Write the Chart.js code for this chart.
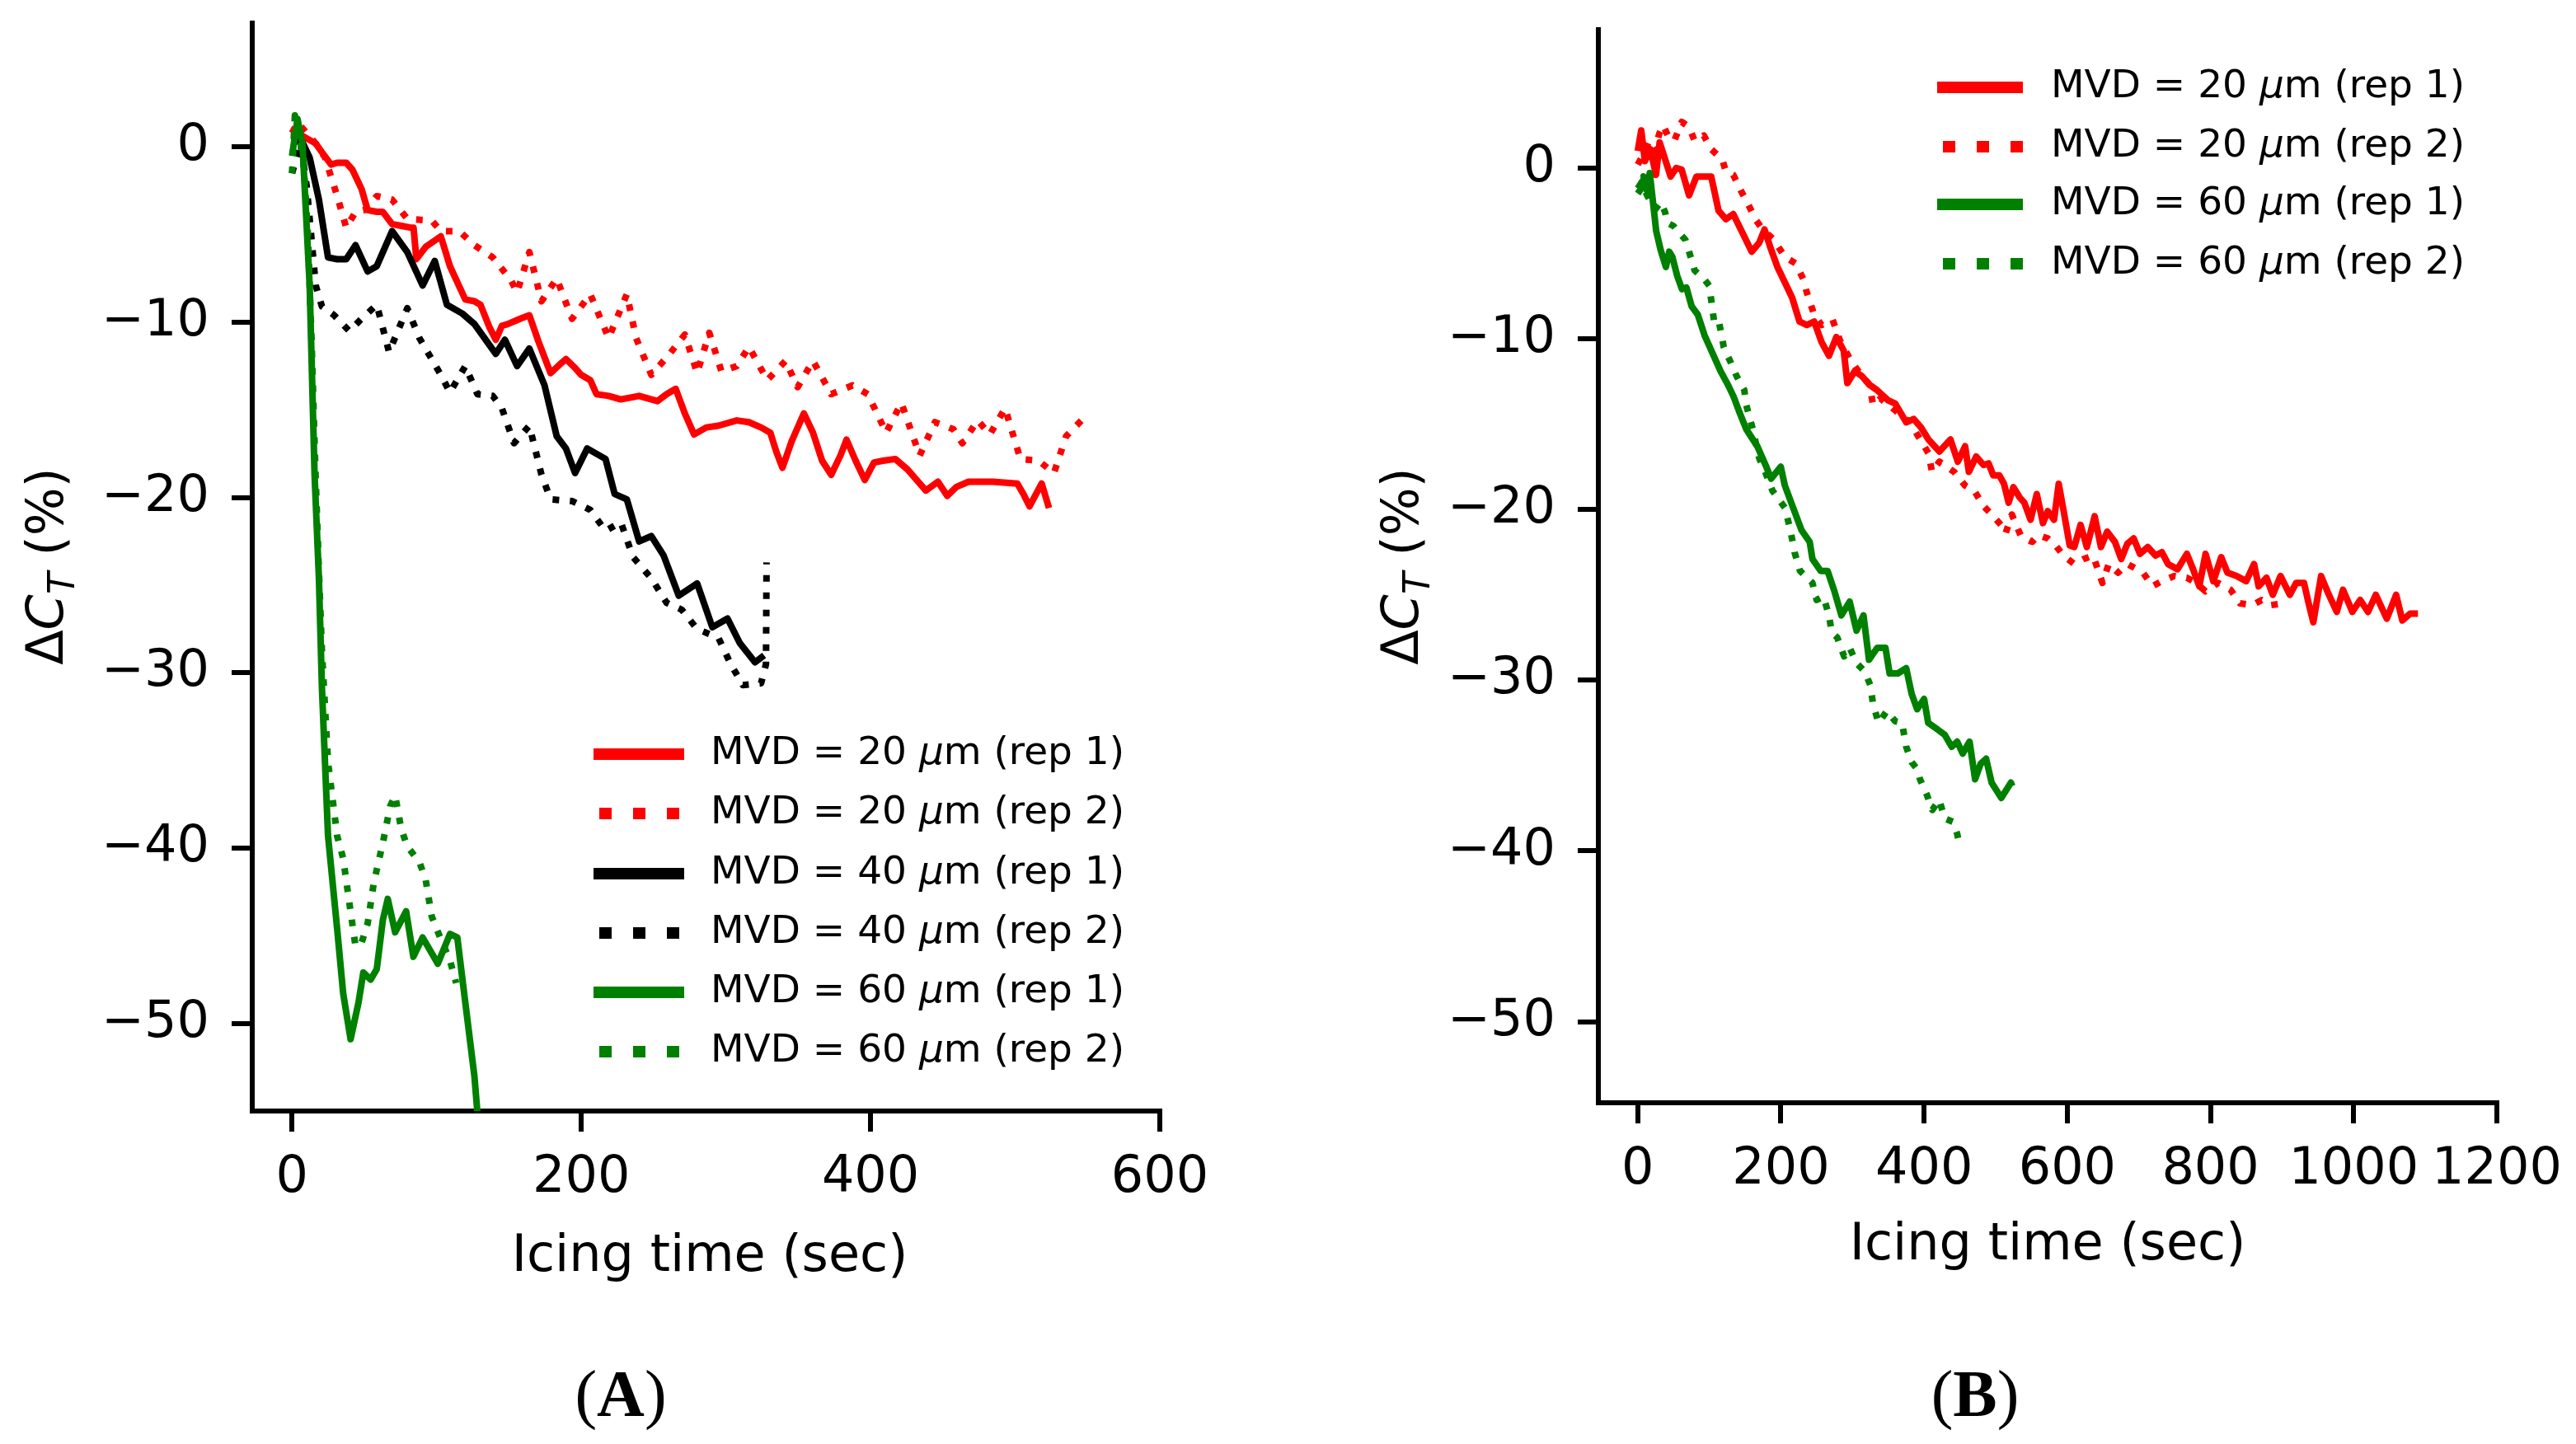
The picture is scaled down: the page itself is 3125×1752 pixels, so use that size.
<!DOCTYPE html>
<html>
<head>
<meta charset="utf-8">
<script src="https://cdn.jsdelivr.net/npm/chart.js@4.4.1/dist/chart.umd.min.js"></script>
<style>
html, body { margin: 0; padding: 0; background: #fff; }
#wrap { position: relative; width: 3125px; height: 1752px; overflow: hidden; background: #fff; }
canvas { position: absolute; top: 0; }
#chartA { left: 0; }
#chartB { left: 1560px; }
</style>
</head>
<body>
<div id="wrap">
  <canvas id="chartA" width="1560" height="1752"></canvas>
  <canvas id="chartB" width="1565" height="1752"></canvas>
</div>
<script>
// ---- panel A: [icing time (s), delta CT (%)] ----
const A_mvd20_rep1 = [[0,0.3],[8,0.6],[16.4,0.2],[20.7,-0.3],[27,-1],[31.2,-0.9],[37.5,-0.9],[41.8,-1.3],[48.1,-2.4],[52.3,-3.6],[58.6,-3.7],[62.8,-3.7],[69.2,-4.4],[75.5,-4.5],[81.8,-4.6],[84,-4.6],[86,-6.4],[92.4,-5.7],[102.9,-5.1],[109.2,-6.8],[119.8,-8.7],[126.1,-8.8],[130.3,-9],[136.6,-10.3],[140.9,-11],[145.1,-10.2],[149.3,-10.1],[157.7,-9.8],[164.1,-9.6],[170.4,-11.1],[178.8,-12.9],[185.2,-12.4],[189.4,-12.1],[195.7,-12.6],[199.9,-13],[206.2,-13.3],[210.5,-14.1],[218.9,-14.2],[227.3,-14.4],[240,-14.2],[252.6,-14.5],[259,-14.1],[265.3,-13.8],[271.6,-15.2],[278,-16.4],[286.4,-16],[294.8,-15.9],[307.5,-15.6],[315.9,-15.7],[324.3,-16],[330.7,-16.3],[334.9,-17.4],[339.1,-18.3],[345.4,-16.8],[353.9,-15.2],[360.2,-16.3],[366.5,-17.9],[372.8,-18.7],[379.2,-17.6],[383.4,-16.7],[389.7,-17.9],[396,-19],[402.4,-18],[408.7,-17.9],[417.1,-17.8],[425.6,-18.4],[431.9,-19],[438.2,-19.6],[446.6,-19.1],[453,-19.9],[459.3,-19.4],[467.7,-19.1],[484.6,-19.1],[501.5,-19.2],[505.7,-19.8],[509.9,-20.5],[518.3,-19.2],[523.4,-20.6]];
const A_mvd20_rep2 = [[0,0.8],[3.8,1.4],[10.1,0.8],[16.4,0.2],[22.8,-0.6],[31.2,-2.8],[37.5,-4.6],[43.9,-3.7],[50.2,-3.6],[58.6,-2.8],[69.2,-3],[79.7,-4.1],[96.6,-4.2],[102.9,-4.8],[115.6,-4.8],[126.1,-5.6],[138.8,-6.3],[151.4,-7.6],[155.6,-8.3],[164.1,-6],[172.5,-8.8],[183,-7.5],[193.6,-9.8],[206.2,-8.4],[218.9,-10.9],[231.5,-8.4],[237.9,-10.9],[248.4,-13],[261.1,-11.8],[271.6,-10.7],[280.1,-12.9],[288.5,-10.6],[296.9,-12.8],[307.5,-12.5],[315.9,-11.4],[328.6,-13.3],[341.2,-12.2],[349.6,-13.7],[360.2,-12.2],[372.8,-14.1],[387.6,-13.6],[398.1,-14.1],[410.8,-16.3],[421.3,-14.6],[434,-17.6],[444.5,-15.7],[457.2,-16.1],[463.5,-16.9],[474.1,-15.6],[482.5,-16.4],[493,-14.9],[503.6,-17.8],[516.2,-17.9],[526.8,-18.6],[535.2,-16.5],[545.8,-15.6]];
const A_mvd40_rep1 = [[0.8,0.2],[5.9,0.5],[12.2,-0.6],[18.6,-3],[24.9,-6.3],[31.2,-6.4],[37.5,-6.4],[43.9,-5.6],[52.3,-7.1],[58.6,-6.8],[69.2,-4.8],[79.7,-6],[90.3,-7.9],[98.7,-6.5],[107.1,-9],[117.7,-9.5],[126.1,-10.1],[140.9,-11.8],[147.2,-11],[155.6,-12.5],[164.1,-11.5],[174.6,-13.6],[183,-16.5],[189.4,-17.2],[195.7,-18.6],[204.1,-17.2],[216.8,-17.8],[223.1,-19.8],[231.5,-20.1],[240,-22.5],[248.4,-22.2],[256.9,-23.3],[267.4,-25.6],[280.1,-24.9],[290.6,-27.4],[301.1,-26.9],[309.6,-28.3],[320.1,-29.4],[326.4,-29]];
const A_mvd40_rep2 = [[0,-1.5],[5.9,0.2],[10.1,-2.2],[16.4,-7.9],[20.7,-9.1],[29.1,-9.6],[39.6,-10.5],[48.1,-9.8],[58.6,-9],[67.1,-11.7],[79.7,-9.2],[88.1,-10.9],[102.9,-13],[109.2,-14],[119.8,-12.5],[128.2,-14.1],[138.8,-14.2],[145.1,-14.9],[153.5,-16.9],[164.1,-15.9],[172.5,-18.7],[178.8,-20.1],[193.6,-20.2],[206.2,-20.7],[216.8,-21.9],[227.3,-21.4],[235.8,-23.4],[248.4,-24.6],[259,-26],[269.5,-26.4],[280.1,-27.5],[294.8,-28],[303.3,-29.5],[311.7,-30.7],[324.3,-30.6],[327.7,-29.5],[328.1,-23.7]];
const A_mvd60_rep1 = [[0,-0.5],[3.8,1.6],[7.2,0.2],[9.5,-3.5],[12.2,-7.9],[15.6,-18.7],[18.6,-24.6],[20.7,-30.9],[24.9,-39.3],[31.2,-44.6],[35.4,-48.3],[40.5,-50.9],[46,-48.8],[49.3,-47.1],[54.4,-47.5],[58.6,-46.9],[62.8,-44.1],[66.2,-42.9],[71.3,-44.8],[78.9,-43.6],[83.9,-46.2],[90.3,-45.1],[96.6,-46],[100.8,-46.6],[109.2,-44.9],[114.3,-45.1],[119.8,-48.8],[126.1,-53],[128.2,-55.1],[131,-60]];
const A_mvd60_rep2 = [[0,-1.5],[2,1.8],[5,0.6],[8,-0.8],[11,-5],[13.5,-11],[16,-18],[18.5,-24],[20.7,-28.8],[24.9,-35.1],[31.2,-39.3],[35.4,-40.6],[39.6,-43.1],[43.9,-45.6],[48.1,-45.4],[52.3,-44.3],[56.5,-42],[62.8,-39.7],[67.9,-37.6],[71.3,-37],[75.5,-38.9],[79.7,-39.9],[88.1,-40.8],[92.4,-41.8],[96.6,-43.9],[102.9,-45.2],[109.2,-46.4],[113.5,-47.7]];

// ---- panel B ----
const B_mvd20_rep1 = [[0,1],[4.9,2.2],[10,0.4],[17.7,1.1],[25.5,-0.4],[30.6,1.5],[38.3,0.5],[46,-0.5],[53.7,0],[61.4,-0.1],[71.7,-1.6],[82,-0.5],[94.9,-0.5],[102.6,-0.5],[112.9,-2.5],[123.1,-3],[133.4,-2.7],[146.3,-3.8],[159.1,-4.9],[169.4,-4.4],[177.1,-3.6],[184.8,-4.6],[195.1,-5.8],[205.4,-6.7],[215.7,-7.6],[226,-9],[236.2,-9.2],[246.5,-9],[256.8,-10.2],[267.1,-11],[277.4,-9.9],[287.7,-10.7],[292.8,-12.6],[303.1,-11.9],[313.4,-12.2],[323.7,-12.7],[334,-13],[349.4,-13.6],[359.7,-13.8],[375.1,-14.9],[385.4,-14.7],[395.7,-15.2],[406,-15.9],[421.4,-16.6],[436.8,-15.9],[447.1,-17.2],[457.3,-16.3],[462.5,-17.8],[472.7,-16.9],[483,-17.4],[490,-17.3],[496.6,-18],[505,-18],[511.6,-18.5],[518,-19.6],[524.7,-18.7],[533.5,-19.3],[540,-19.6],[548.7,-20.6],[557.4,-19.1],[566,-20.8],[572.7,-20.1],[581.5,-20.6],[588,-18.5],[594.5,-20],[603.3,-22.1],[609.8,-22.2],[618.5,-20.9],[627.3,-22.2],[638.2,-20.4],[647,-22.2],[655.7,-21.3],[666.5,-21.9],[675.3,-22.9],[684,-22],[692.7,-21.7],[701.5,-22.6],[712.4,-22.2],[723.3,-22.7],[732,-22.5],[740.8,-23.2],[753.9,-23.5],[767,-22.6],[775.7,-23.5],[784.4,-24.5],[793.1,-22.6],[804,-24.2],[815,-22.8],[823.7,-23.7],[836.8,-23.9],[849.9,-24.2],[860.8,-23.2],[867.3,-24.5],[878.2,-24],[887,-25],[897.8,-23.9],[910.9,-25],[919.7,-24.3],[930.6,-24.3],[937.1,-25.5],[943.6,-26.6],[954.5,-23.9],[963.3,-24.8],[976.4,-26],[985.1,-24.7],[998.2,-26],[1009.1,-25.3],[1020,-26],[1030.9,-25],[1046.2,-26.4],[1059.3,-25],[1068,-26.5],[1078.9,-26.1],[1089.8,-26.1]];
const B_mvd20_rep2 = [[0,0.2],[8,0.8],[16,1.6],[24,1],[30,2],[35.7,2.5],[43,1.8],[51.2,1.6],[61.4,2.7],[71.7,2.4],[79.4,1.6],[92.3,1.9],[102.6,1.1],[118,0.5],[123.1,-0.2],[133.4,-0.4],[143.7,-1.3],[154,-2.1],[164.3,-3],[174.5,-3.6],[190,-4.2],[205.4,-5.2],[220.8,-5.6],[231.1,-6.5],[236.2,-7.3],[246.5,-8.6],[256.8,-9.2],[272.2,-8.9],[282.5,-10.1],[297.9,-11.3],[308.2,-11.9],[323.7,-12.7],[328.8,-13.9],[339.1,-13.5],[359.7,-14.2],[380.2,-14.9],[406,-16.7],[411.1,-17.8],[421.4,-17.2],[441.9,-17.8],[457.3,-18.6],[470,-18.9],[483,-19.8],[496.6,-20.4],[507.3,-20.9],[513.8,-21.4],[522.6,-20.3],[535.6,-21.6],[550.9,-21.9],[559.6,-21.5],[572.7,-21.7],[583.6,-22.1],[594.5,-22.7],[609.8,-23.2],[622.9,-22.9],[636,-22.7],[649.1,-24.3],[657.8,-23.2],[670.9,-23.7],[684,-23.2],[705.8,-23.7],[718.9,-24.5],[732,-24.2],[749.4,-23.9],[767,-24],[780,-24.3],[793.1,-24.8],[810.6,-24.3],[828,-24.7],[841.1,-25.5],[858.5,-25.6],[871.6,-25.3],[884.7,-25.6],[902.2,-25.5]];
const B_mvd60_rep1 = [[0,-1.2],[6,-0.8],[12.3,-1.3],[16.8,-0.3],[20,-1.5],[25.8,-3.7],[32,-4.8],[39.3,-5.8],[44,-4.9],[48.3,-5.2],[55,-6.3],[61.8,-7.1],[68,-7],[75.3,-8.1],[84,-8.6],[93.3,-9.8],[104,-10.8],[115.7,-11.9],[126,-12.7],[134,-13.4],[142,-14.3],[151.6,-15.3],[167,-16.3],[178.6,-17.4],[186.3,-18.2],[199.8,-17.5],[205.5,-18.6],[217.1,-19.9],[228.6,-21.2],[240.2,-21.9],[244,-22.9],[255.6,-23.6],[265.2,-23.6],[274.8,-24.8],[284.5,-26.2],[296,-25.4],[305.6,-27.1],[315.3,-26.2],[323,-28.8],[334.5,-28.1],[346,-28.1],[351.8,-29.6],[363.4,-29.6],[375,-29.3],[382.6,-30.8],[390.3,-31.7],[400,-31.1],[405.7,-32.5],[419.2,-32.9],[428.8,-33.2],[438.5,-33.9],[446.2,-33.6],[453.9,-34.3],[463.5,-33.6],[471.2,-35.8],[478.9,-34.9],[486.6,-34.6],[494.3,-36],[507.8,-36.9],[521.2,-36],[523.2,-36.2]];
const B_mvd60_rep2 = [[0,-1.5],[3.3,-1.3],[8,-0.5],[12,-1.5],[18,-2],[25,-2.4],[32,-2],[38.3,-2.6],[40.9,-3.2],[50,-3.4],[58,-3.8],[66.5,-4.2],[71.7,-4.9],[79.5,-6],[92.5,-6.5],[100,-6.9],[106.7,-9],[113,-8.9],[120.2,-10.5],[130,-11.4],[138.2,-12.2],[148.8,-13],[151.7,-13.9],[160.7,-15.3],[169.7,-17],[178,-17.8],[188.2,-18.9],[205.5,-19.9],[213.2,-21.2],[219,-22.5],[226.7,-23.6],[244,-24.3],[249.8,-25.3],[259.4,-25.1],[267.1,-26.2],[271,-27.2],[278.7,-27.5],[288.3,-28.6],[296,-28.1],[305.6,-29],[317.2,-29.5],[324.9,-30.3],[328.7,-31.4],[336.4,-32.5],[348,-31.8],[359.5,-32.4],[369.2,-32.5],[375,-33.9],[382.6,-34.8],[390.3,-35.2],[394.2,-35.8],[403.8,-36.7],[411.5,-37.6],[421.1,-37],[428.8,-38.1],[440.4,-38.3],[446.2,-39],[450,-39.8]];

const xTicksA = [0, 200, 400, 600];
const xTicksB = [0, 200, 400, 600, 800, 1000, 1200];
const yTicks = [0, -10, -20, -30, -40, -50];

const RED = '#ff0000', BLACK = '#000000', GREEN = '#008000';
const SANS = "'DejaVu Sans'";

function series(label, pts, color, dotted, order) {
    return {
        label: label,
        data: pts.map(p => ({ x: p[0], y: p[1] })),
        borderColor: color,
        backgroundColor: color,
        borderWidth: 8,
        borderDash: dotted ? [8, 13] : [],
        borderCapStyle: 'butt',
        borderJoinStyle: 'round',
        pointRadius: 0,
        pointHoverRadius: 0,
        tension: 0,
        fill: false,
        order: order
    };
}

function minusLabel(v) {
    return v < 0 ? '\u2212' + Math.abs(v) : String(v);
}

function tickStyle() {
    return {
        grid: { display: true, drawOnChartArea: false, drawTicks: true, tickLength: 25, tickWidth: 6, tickColor: '#000', color: '#000', lineWidth: 6 },
        border: { display: true, color: '#000', width: 6 }
    };
}

function xAxis(min, max, ticks, height) {
    return Object.assign({
        type: 'linear', min: min, max: max,
        afterBuildTicks: s => { s.ticks = ticks.map(v => ({ value: v })); },
        afterFit: s => { s.height = height; s.paddingLeft = 0; s.paddingRight = 0; },
        ticks: { color: '#000', font: { family: SANS, size: 62 }, padding: 20, maxRotation: 0, minRotation: 0, autoSkip: false, callback: v => minusLabel(v) }
    }, tickStyle());
}

function yAxis(min, max, width) {
    return Object.assign({
        type: 'linear', min: min, max: max,
        afterBuildTicks: s => { s.ticks = yTicks.map(v => ({ value: v })); },
        afterFit: s => { s.width = width; s.paddingTop = 0; s.paddingBottom = 0; },
        ticks: { color: '#000', font: { family: SANS, size: 62 }, padding: 27, autoSkip: false, callback: v => minusLabel(v) }
    }, tickStyle());
}

// titles, panel letter and the legend (mathtext bits need mixed fonts)
const panelText = {
    id: 'panelText',
    afterDraw(chart, args, o) {
        const ctx = chart.ctx;
        ctx.save();
        ctx.fillStyle = '#000';

        ctx.font = '62px ' + SANS;
        ctx.textAlign = 'center';
        ctx.textBaseline = 'middle';
        ctx.fillText('Icing time (sec)', o.xTitle[0], o.xTitle[1]);

        // y title: ΔC_T (%)
        const parts = [
            ['\u0394', '62px ' + SANS, 0],
            ['C', 'italic 62px ' + SANS, 0],
            ['T', 'italic 44px ' + SANS, 14],
            [' (%)', '62px ' + SANS, 0]
        ];
        let total = 0;
        parts.forEach(p => { ctx.font = p[1]; p.push(ctx.measureText(p[0]).width); total += p[3]; });
        ctx.save();
        ctx.translate(o.yTitle[0], o.yTitle[1]);
        ctx.rotate(-Math.PI / 2);
        ctx.textAlign = 'left';
        ctx.textBaseline = 'alphabetic';
        let px = -total / 2;
        parts.forEach(p => { ctx.font = p[1]; ctx.fillText(p[0], px, 22 + p[2]); px += p[3]; });
        ctx.restore();

        // panel letter: (A) with bold letter
        const lp = [['(', '80px "Liberation Serif"'], [o.letter, 'bold 80px "Liberation Serif"'], [')', '80px "Liberation Serif"']];
        let lw = 0;
        lp.forEach(p => { ctx.font = p[1]; p.push(ctx.measureText(p[0]).width); lw += p[2]; });
        ctx.textAlign = 'left';
        ctx.textBaseline = 'middle';
        let lx = o.letterPos[0] - lw / 2;
        lp.forEach(p => { ctx.font = p[1]; ctx.fillText(p[0], lx, o.letterPos[1]); lx += p[2]; });

        // legend
        const lg = o.legend;
        chart.data.datasets.forEach((ds, i) => {
            const y = lg.rows[i];
            const dotted = ds.borderDash.length > 0;
            ctx.save();
            ctx.strokeStyle = ds.borderColor;
            ctx.lineWidth = 14;
            ctx.lineCap = 'butt';
            ctx.setLineDash(dotted ? [15, 26] : []);
            ctx.beginPath();
            ctx.moveTo(lg.x0 + (dotted ? 7 : 0), y);
            ctx.lineTo(lg.x1, y);
            ctx.stroke();
            ctx.restore();

            const bits = ds.label.split('\u03bc');
            let tx = lg.tx;
            ctx.fillStyle = '#000';
            ctx.textAlign = 'left';
            ctx.textBaseline = 'middle';
            ctx.font = '47px ' + SANS;
            ctx.fillText(bits[0], tx, y);
            tx += ctx.measureText(bits[0]).width;
            ctx.font = 'italic 47px ' + SANS;
            ctx.fillText('\u03bc', tx, y);
            tx += ctx.measureText('\u03bc').width;
            ctx.font = '47px ' + SANS;
            ctx.fillText(bits[1], tx, y);
        });
        ctx.restore();
    }
};

const chartA = new Chart(document.getElementById('chartA').getContext('2d'), {
    type: 'line',
    data: {
        datasets: [
            series('MVD = 20 \u03bcm (rep 1)', A_mvd20_rep1, RED, false, 6),
            series('MVD = 20 \u03bcm (rep 2)', A_mvd20_rep2, RED, true, 5),
            series('MVD = 40 \u03bcm (rep 1)', A_mvd40_rep1, BLACK, false, 4),
            series('MVD = 40 \u03bcm (rep 2)', A_mvd40_rep2, BLACK, true, 3),
            series('MVD = 60 \u03bcm (rep 1)', A_mvd60_rep1, GREEN, false, 2),
            series('MVD = 60 \u03bcm (rep 2)', A_mvd60_rep2, GREEN, true, 1)
        ]
    },
    options: {
        responsive: false,
        animation: false,
        devicePixelRatio: 1,
        events: [],
        layout: { padding: { left: 0, top: 28, right: 153, bottom: 0 } },
        scales: {
            x: xAxis(-27.5, 600, xTicksA, 404),
            y: yAxis(-55, 7.07, 306)
        },
        plugins: {
            legend: { display: false },
            tooltip: { enabled: false },
            panelText: {
                xTitle: [861, 1526],
                yTitle: [54, 687],
                letter: 'A',
                letterPos: [753, 1697],
                legend: { x0: 720, x1: 830, tx: 862, rows: [915, 987, 1060, 1132, 1204, 1276] }
            }
        }
    },
    plugins: [panelText]
});

const chartB = new Chart(document.getElementById('chartB').getContext('2d'), {
    type: 'line',
    data: {
        datasets: [
            series('MVD = 20 \u03bcm (rep 1)', B_mvd20_rep1, RED, false, 4),
            series('MVD = 20 \u03bcm (rep 2)', B_mvd20_rep2, RED, true, 3),
            series('MVD = 60 \u03bcm (rep 1)', B_mvd60_rep1, GREEN, false, 2),
            series('MVD = 60 \u03bcm (rep 2)', B_mvd60_rep2, GREEN, true, 1)
        ]
    },
    options: {
        responsive: false,
        animation: false,
        devicePixelRatio: 1,
        events: [],
        layout: { padding: { left: 0, top: 36, right: 96, bottom: 0 } },
        scales: {
            x: xAxis(-55, 1200, xTicksB, 414),
            y: yAxis(-54.75, 8.1, 379)
        },
        plugins: {
            legend: { display: false },
            tooltip: { enabled: false },
            panelText: {
                xTitle: [924, 1512],
                yTitle: [138, 687],
                letter: 'B',
                letterPos: [836, 1697],
                legend: { x0: 790, x1: 894, tx: 928, rows: [106, 178, 248, 320] }
            }
        }
    },
    plugins: [panelText]
});
</script>
</body>
</html>
